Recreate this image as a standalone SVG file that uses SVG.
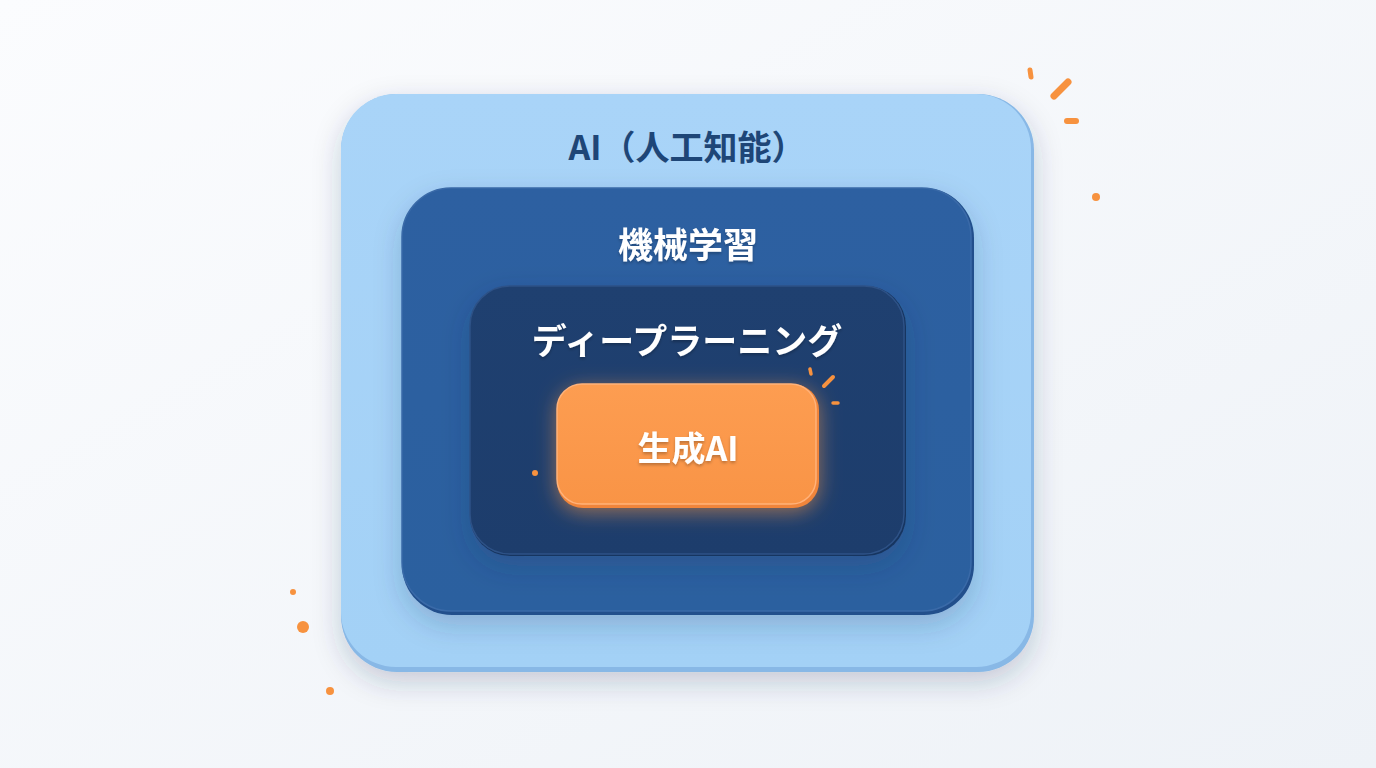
<svg xmlns="http://www.w3.org/2000/svg" width="1376" height="768" viewBox="0 0 1376 768">
<defs>
<linearGradient id="bg" x1="0" y1="0" x2="1" y2="1">
<stop offset="0" stop-color="#fbfcfe"/><stop offset="1" stop-color="#eef2f7"/>
</linearGradient>
<linearGradient id="gOuter" x1="0" y1="0" x2="0" y2="1">
<stop offset="0" stop-color="#a9d4f8"/><stop offset="1" stop-color="#a3d1f6"/>
</linearGradient>
<linearGradient id="gMid" x1="0" y1="0" x2="0" y2="1">
<stop offset="0" stop-color="#2d60a1"/><stop offset="1" stop-color="#2b609f"/>
</linearGradient>
<linearGradient id="gInner" x1="0" y1="0" x2="0" y2="1">
<stop offset="0" stop-color="#1f4070"/><stop offset="1" stop-color="#1d3d6c"/>
</linearGradient>
<linearGradient id="gOrange" x1="0" y1="0" x2="0" y2="1">
<stop offset="0" stop-color="#fd9d51"/><stop offset="1" stop-color="#f99446"/>
</linearGradient>
<filter id="shadow" x="-20%" y="-20%" width="140%" height="150%">
<feDropShadow dx="0" dy="10" stdDeviation="14" flood-color="#1e3a5f" flood-opacity="0.22"/>
</filter>
<filter id="glow" x="-30%" y="-40%" width="160%" height="180%">
<feDropShadow dx="0" dy="4" stdDeviation="10" flood-color="#ff9a45" flood-opacity="0.55"/>
</filter>
<filter id="tshadow" x="-10%" y="-20%" width="120%" height="150%">
<feDropShadow dx="0" dy="2" stdDeviation="1.5" flood-color="#000" flood-opacity="0.25"/>
</filter>
<style>
.lbl{font-family:"Noto Sans CJK JP","Noto Sans",sans-serif;font-weight:700;text-anchor:middle;dominant-baseline:central}
.acc{stroke:#f7923f;stroke-linecap:round;fill:none}
.dot{fill:#f7923f}
</style>
</defs>
<rect width="1376" height="768" fill="url(#bg)"/>

<g id="node-ai">
<rect x="341" y="94" width="693" height="578" rx="56" fill="#88b8e6" filter="url(#shadow)"/>
<rect x="341" y="94" width="690" height="573" rx="55" fill="url(#gOuter)"/>
<text class="lbl" x="687" y="145" font-size="34" fill="#1e4677">AI（人工知能）</text>
</g>

<g id="node-ml">
<rect x="402" y="188" width="572" height="427" rx="50" fill="#214f8c" filter="url(#shadow)"/>
<rect x="402" y="188" width="569" height="423" rx="49" fill="url(#gMid)" stroke="#3a6aa8" stroke-width="1.5"/>
<text class="lbl" x="688" y="242" font-size="35" fill="#ffffff" filter="url(#tshadow)">機械学習</text>
</g>

<g id="node-dl">
<rect x="470" y="286" width="436" height="270" rx="40" fill="#183661" filter="url(#shadow)"/>
<rect x="470" y="286" width="434" height="268" rx="40" fill="url(#gInner)" stroke="#2e5287" stroke-width="1.5"/>
<text class="lbl" x="687" y="338" font-size="35" fill="#ffffff" filter="url(#tshadow)">ディープラーニング</text>
</g>

<g id="node-genai">
<rect x="557" y="384" width="262" height="124" rx="26" fill="#f0853a" filter="url(#glow)"/>
<rect x="557" y="384" width="259" height="120" rx="25" fill="url(#gOrange)" stroke="#ffb27a" stroke-width="1.5"/>
<text class="lbl" x="688" y="446" font-size="34" fill="#ffffff" filter="url(#tshadow)">生成AI</text>
</g>

<g id="decor">
<line class="acc" x1="1030" y1="70" x2="1031" y2="77" stroke-width="5"/>
<line class="acc" x1="1054" y1="96" x2="1068" y2="82" stroke-width="7"/>
<line class="acc" x1="1067" y1="121" x2="1076" y2="121" stroke-width="6"/>
<circle class="dot" cx="1096" cy="197" r="4"/>
<circle class="dot" cx="293" cy="592" r="3"/>
<circle class="dot" cx="303" cy="627" r="6"/>
<circle class="dot" cx="330" cy="691" r="4"/>
<line class="acc" x1="810" y1="369" x2="811" y2="374" stroke-width="3.5"/>
<line class="acc" x1="824" y1="386" x2="833" y2="377" stroke-width="4"/>
<line class="acc" x1="833" y1="403" x2="838" y2="403" stroke-width="3.5"/>
<circle class="dot" cx="535" cy="473" r="3"/>
</g>
</svg>
